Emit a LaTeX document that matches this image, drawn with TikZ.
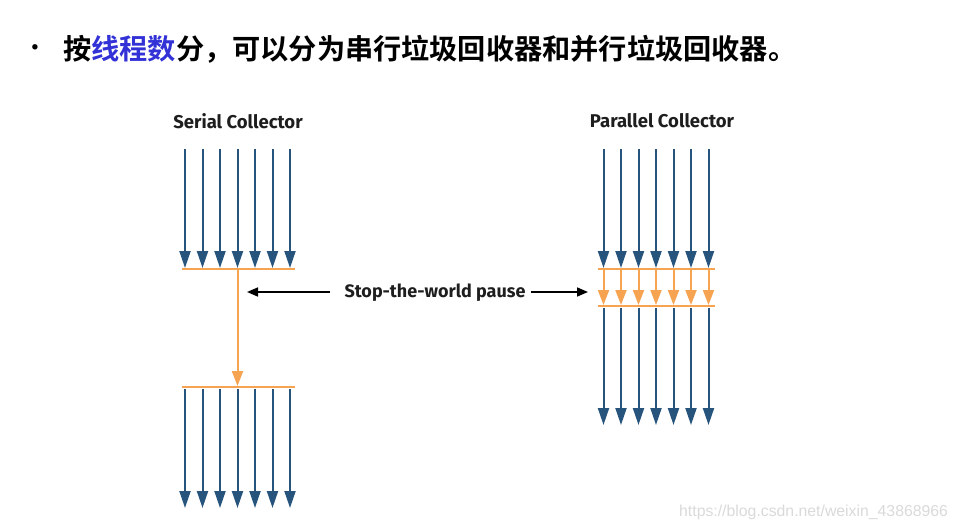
\documentclass[tikz,border=0pt]{standalone}
\usepackage{fontspec}
\setmainfont{Fira Sans}
\newfontfamily\cjk{Noto Sans CJK SC}[BoldFont={Noto Sans CJK SC Bold}]
\newfontfamily\wmfont{Liberation Sans}
\usetikzlibrary{arrows.meta}
\definecolor{arrblue}{RGB}{38,84,124}
\definecolor{pauseorange}{RGB}{246,164,82}
\definecolor{kwblue}{RGB}{50,50,215}
\definecolor{wmgray}{RGB}{218,218,218}
\definecolor{txtdark}{RGB}{30,30,30}
\tikzset{
  bluearrow/.style={draw=arrblue, line width=2pt, -{Triangle[length=17pt,width=11pt]}},
  orangearrow/.style={draw=pauseorange, line width=2pt, -{Triangle[length=15pt,width=11pt]}},
  orangebar/.style={draw=pauseorange, line width=2.2pt},
  blackarrow/.style={draw=black, line width=1.6pt, -{Triangle[length=11pt,width=9pt]}},
  title/.style={font=\bfseries\fontsize{18.5}{22}\selectfont, text=txtdark, inner sep=0pt},
  pauselabel/.style={font=\bfseries\fontsize{18}{22}\selectfont, text=txtdark, inner sep=0pt}
}
\begin{document}
\begin{tikzpicture}[x=1pt,y=-1pt]
\useasboundingbox[fill=white] (0,0) rectangle (959,530);

% heading
\node[inner sep=0pt, anchor=west] (bullet) at (31,50) {\fontsize{24}{26}\selectfont\textbullet};
\node[inner sep=0pt, anchor=west] (heading) at (63,49)
  {\cjk\bfseries\fontsize{28.2}{32}\selectfont 按{\color{kwblue}线程数}分，可以分为串行垃圾回收器和并行垃圾回收器。};

% titles
\node[title] (serialtitle) at (238,121) {Serial Collector};
\node[title] (paralleltitle) at (662,121) {Parallel Collector};

% serial collector
\foreach \i in {0,...,6} {
  \pgfmathsetmacro{\xx}{185+17.5*\i}
  \coordinate (sa\i) at (\xx,149);
  \coordinate (sb\i) at (\xx,268);
  \coordinate (sc\i) at (\xx,389);
  \coordinate (sd\i) at (\xx,508);
  \draw[bluearrow] (sa\i) -- (sb\i);
  \draw[bluearrow] (sc\i) -- (sd\i);
}
\coordinate (sbarL) at (182,269);
\coordinate (sbarR) at (295,269);
\coordinate (sbar2L) at (182,387);
\coordinate (sbar2R) at (295,387);
\coordinate (sgcA) at (237.5,270);
\coordinate (sgcB) at (237.5,386);
\draw[orangebar] (sbarL) -- (sbarR);
\draw[orangebar] (sbar2L) -- (sbar2R);
\draw[orangearrow] (sgcA) -- (sgcB);

% parallel collector
\foreach \i in {0,...,6} {
  \pgfmathsetmacro{\xx}{603.5+17.5*\i}
  \coordinate (pa\i) at (\xx,149);
  \coordinate (pb\i) at (\xx,268);
  \coordinate (pc\i) at (\xx,270);
  \coordinate (pd\i) at (\xx,305);
  \coordinate (pe\i) at (\xx,308);
  \coordinate (pf\i) at (\xx,425);
  \draw[bluearrow] (pa\i) -- (pb\i);
  \draw[orangearrow] (pc\i) -- (pd\i);
  \draw[bluearrow] (pe\i) -- (pf\i);
}
\coordinate (pbarL) at (598,269);
\coordinate (pbarR) at (715,269);
\coordinate (pbar2L) at (598,306);
\coordinate (pbar2R) at (715,306);
\draw[orangebar] (pbarL) -- (pbarR);
\draw[orangebar] (pbar2L) -- (pbar2R);

% pause label
\node[pauselabel] (pause) at (435,293) {Stop-the-world pause};
\coordinate (pauseL) at (247,292);
\coordinate (pauseR) at (588,292);
\draw[blackarrow] ([xshift=-14pt]pause.west |- pauseL) -- (pauseL);
\draw[blackarrow] ([xshift=5pt]pause.east |- pauseR) -- (pauseR);

% watermark
\node[inner sep=0pt, anchor=west, text=wmgray, font=\wmfont\fontsize{15.8}{18}\selectfont] (wm) at (679,512) {https://blog.csdn.net/weixin\_43868966};
\end{tikzpicture}
\end{document}
